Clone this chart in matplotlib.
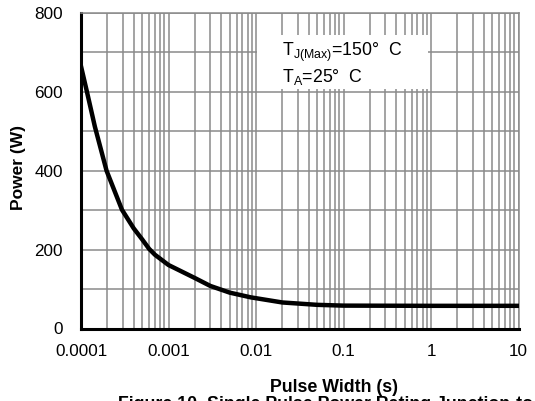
import numpy as np
import matplotlib
matplotlib.use('Agg')
import matplotlib.pyplot as plt
from matplotlib.ticker import LogLocator, FixedLocator, NullFormatter

plt.rcParams['font.family'] = ['Liberation Sans', 'DejaVu Sans']
plt.rcParams['mathtext.default'] = 'regular'

# single pulse power rating
pulse_width = [1e-4, 1.17e-4, 1.44e-4, 1.96e-4, 2.94e-4, 4e-4, 5e-4, 6e-4, 7e-4,
               1e-3, 2e-3, 3e-3, 5e-3, 8.7e-3, 2e-2, 5e-2, 0.1, 1, 10]
power = [665, 600, 512, 400, 301, 254, 226, 202, 187,
         161, 128, 108, 91, 79, 66, 60, 58, 57.5, 57.5]

x_ticks = [1e-4, 1e-3, 1e-2, 1e-1, 1, 10]
x_labels = ['0.0001', '0.001', '0.01', '0.1', '1', '10']
y_ticks = [0, 200, 400, 600, 800]

fig = plt.figure(figsize=(5.35, 4.01), dpi=100)
ax = fig.add_axes([81/535, 1 - 328.5/401, (518.5 - 81)/535, (328.5 - 13)/401])

grid_col = '#8a8a8a'
ax.set_xscale('log')
ax.set_xlim(1e-4, 10)
ax.set_ylim(0, 800)
ax.set_xticks(x_ticks)
ax.set_xticklabels(x_labels)
ax.xaxis.set_minor_locator(LogLocator(base=10, subs=np.arange(2, 10), numticks=20))
ax.xaxis.set_minor_formatter(NullFormatter())
ax.set_yticks(y_ticks)
ax.yaxis.set_minor_locator(FixedLocator([100, 300, 500, 700]))
ax.grid(True, which='both', color=grid_col, linewidth=1.1)
ax.set_axisbelow(True)
ax.tick_params(which='both', length=0, labelsize=12.3)
ax.tick_params(axis='x', pad=11.5)
ax.tick_params(axis='y', pad=13)

for s in ['top', 'right']:
  ax.spines[s].set_color(grid_col)
  ax.spines[s].set_linewidth(1.1)
for s in ['left', 'bottom']:
  ax.spines[s].set_color('black')
  ax.spines[s].set_linewidth(2.2)

ax.plot(pulse_width, power, color='black', linewidth=3.2, solid_joinstyle='round', zorder=3)

# white label box over the grid
box = plt.Rectangle((257/535, 1 - 89/401), (428 - 257)/535, (89 - 35)/401,
                    transform=fig.transFigure, facecolor='white', edgecolor='none', zorder=4)
fig.patches.append(box)
fig.text(282/535, 1 - 56/401, r'T$_{J(Max)}$=150°  C', fontsize=12.8, va='baseline', zorder=5)
fig.text(282/535, 1 - 82/401, r'T$_{A}$=25°  C', fontsize=12.8, va='baseline', zorder=5)

fig.text(19/535, 1 - 168/401, 'Power (W)', rotation=90, fontsize=12.5, fontweight='bold',
         ha='center', va='center')
fig.text(334/535, 1 - 392/401, 'Pulse Width (s)', fontsize=12.8, fontweight='bold',
         ha='center', va='baseline')
fig.text(118/535, 1 - 396/401, 'Figure 10. Single Pulse Power Rating Junction-to-Case',
         fontsize=12.8, fontweight='bold', ha='left', va='top')

plt.savefig('out.png', dpi=100)
